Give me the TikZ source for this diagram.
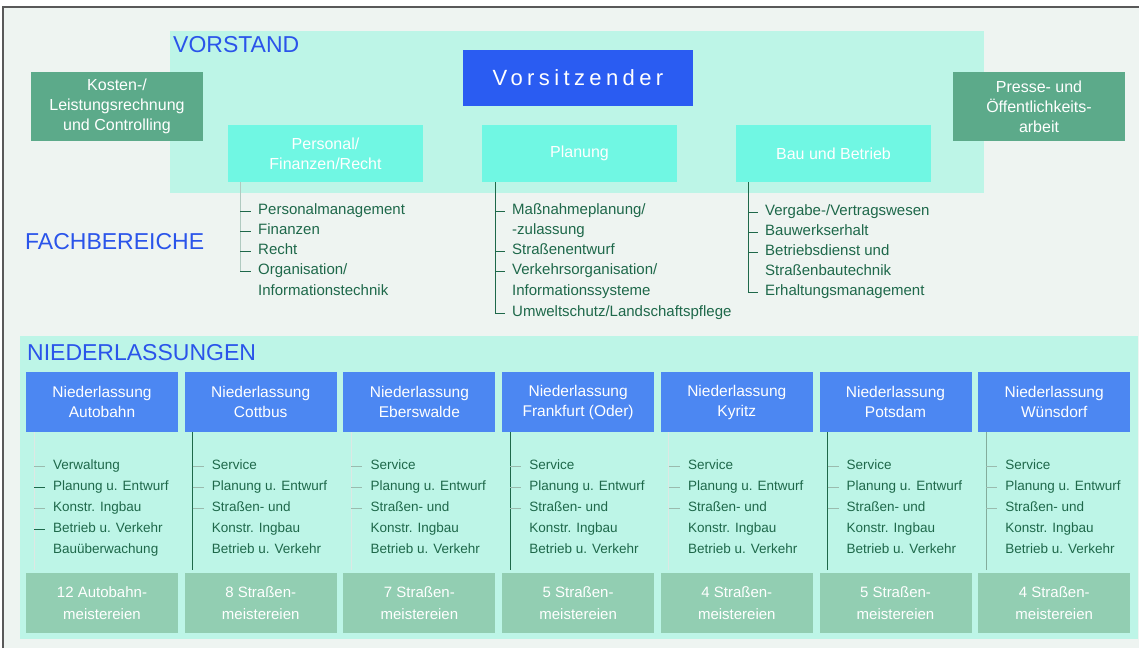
\documentclass[tikz,border=0pt]{standalone}
\usepackage{fontspec}
\setmainfont{Liberation Sans}
\newfontfamily\spacedfont[LetterSpace=20]{Liberation Sans}
\usepackage{xcolor}
\usepackage{tikz}
\usetikzlibrary{positioning, calc}
\definecolor{bgGrey}{RGB}{238,244,241}
\definecolor{mint}{RGB}{189,245,231}
\definecolor{aqua}{RGB}{112,247,227}
\definecolor{chairBlue}{RGB}{42,92,242}
\definecolor{branchBlue}{RGB}{76,135,242}
\definecolor{staffGreen}{RGB}{92,170,138}
\definecolor{depotGreen}{RGB}{146,206,178}
\definecolor{titleBlue}{RGB}{42,84,234}
\definecolor{listGreen}{RGB}{30,104,74}

\begin{document}
\begin{tikzpicture}[x=1pt, y=-1pt,
    chairbox/.style={fill=chairBlue, text=white, minimum width=230pt, minimum height=56pt, inner sep=0pt, font=\spacedfont\fontsize{22}{26}\selectfont},
    staffbox/.style={fill=staffGreen, text=white, align=center, minimum width=172pt, minimum height=69pt, inner sep=0pt, font=\fontsize{16}{20}\selectfont},
    deptbox/.style={fill=aqua, text=white, align=center, minimum width=195pt, minimum height=57pt, inner sep=0pt, font=\fontsize{16}{20}\selectfont},
    branchbox/.style={fill=branchBlue, text=white, align=center, minimum width=152pt, minimum height=60pt, inner sep=0pt, font=\fontsize{15.5}{20}\selectfont},
    depotbox/.style={fill=depotGreen, text=white, align=center, minimum width=152pt, minimum height=60pt, inner sep=0pt, font=\fontsize{15}{22}\selectfont},
    heading/.style={text=titleBlue, anchor=west, inner sep=0pt, font=\fontsize{23}{26}\selectfont},
    listitem/.style={text=listGreen, anchor=west, inner sep=0pt, font=\fontsize{15}{18}\selectfont, text height=10pt, text depth=3pt},
    smallitem/.style={listitem, font=\fontsize{13.5}{16}\selectfont, text height=9.5pt, text depth=2.5pt},
    spine/.style={listGreen, line width=1pt},
    tick/.style={listGreen!45, line width=1pt},
  ]
    \useasboundingbox (0,0) rectangle (1139,648);

    % Background and frame
    \fill[bgGrey] (3,7) rectangle (1139,648);
    \draw[gray!70!black, line width=1.5pt] (3,648) -- (3,7) -- (1139,7);

    % Vorstand
    \fill[mint] (170,31) rectangle (984,193);
    \node[heading] (vorstandT) at (173,45) {VORSTAND};
    \node[chairbox] (chair) at (578,78) {Vorsitzender};
    \node[staffbox] (cost) at (117,106.5) {Kosten-/\\Leistungsrechnung\\und Controlling};
    \node[staffbox] (press) at (1039,106.5) {Presse- und\\Öffentlichkeits-\\arbeit};

    % Fachbereiche
    \node[deptbox] (pers) at (325.5,153.5) {Personal/\\Finanzen/Recht};
    \node[deptbox] (plan) at (579.5,153.5) {Planung};
    \node[deptbox] (bau) at (833.5,153.5) {Bau und Betrieb};
    \node[heading] (fachT) at (25,242) {FACHBEREICHE};

    % Personal/Finanzen/Recht
    \node[listitem] (p1) at (258,211) {Personalmanagement};
    \node[listitem] (p2) at (258,231) {Finanzen};
    \node[listitem] (p3) at (258,251) {Recht};
    \node[listitem] (p4) at (258,271) {Organisation/};
    \node[listitem] (p4b) at (258,292) {Informationstechnik};
    \coordinate (ps) at (240,182);
    \draw[spine, listGreen!35] (pers.south -| ps) -- (ps |- p4.west);
    \foreach \k in {p1,p2,p3,p4}
        \draw[spine] (ps |- \k.west) -- ([xshift=-7pt]\k.west);

    % Planung
    \node[listitem] (m1) at (512,211) {Maßnahmeplanung/};
    \node[listitem] (m1b) at (512,231) {-zulassung};
    \node[listitem] (m2) at (512,251) {Straßenentwurf};
    \node[listitem] (m3) at (512,271) {Verkehrsorganisation/};
    \node[listitem] (m3b) at (512,292) {Informationssysteme};
    \node[listitem] (m4) at (512,313) {Umweltschutz/Landschaftspflege};
    \coordinate (ms) at (495,182);
    \draw[spine] (plan.south -| ms) -- (ms |- m4.west);
    \foreach \k in {m1,m2,m3,m4}
        \draw[spine] (ms |- \k.west) -- ([xshift=-7pt]\k.west);

    % Bau und Betrieb
    \node[listitem] (b1) at (765,212) {Vergabe-/Vertragswesen};
    \node[listitem] (b2) at (765,232) {Bauwerkserhalt};
    \node[listitem] (b3) at (765,252) {Betriebsdienst und};
    \node[listitem] (b3b) at (765,272) {Straßenbautechnik};
    \node[listitem] (b4) at (765,292) {Erhaltungsmanagement};
    \coordinate (bs) at (748,182);
    \draw[spine] (bau.south -| bs) -- (bs |- b4.west);
    \foreach \k in {b1,b2,b3,b4}
        \draw[spine] (bs |- \k.west) -- ([xshift=-7pt]\k.west);

    % Niederlassungen
    \fill[mint] (20,336) rectangle (1138,639);
    \node[heading] (nlT) at (27,353) {NIEDERLASSUNGEN};
    \foreach \i/\city/\depot/\shade in {0/Autobahn/12 Autobahn-/15, 1/Cottbus/8 Straßen-/100,
        2/Eberswalde/7 Straßen-/15, 3/Frankfurt (Oder)/5 Straßen-/100, 4/Kyritz/4 Straßen-/15,
        5/Potsdam/5 Straßen-/100, 6/Wünsdorf/4 Straßen-/55} {
        \pgfmathsetmacro\lx{26+158.7*\i}
        \node[branchbox] (nl\i) at (\lx+76,402) {Niederlassung\\\city};
        \node[depotbox] (dp\i) at (\lx+76,603) {\depot\\meistereien};
        \coordinate (sp\i) at (\lx+8,432);
        \draw[spine, listGreen!\shade, shorten >=3pt] (nl\i.south -| sp\i) -- (dp\i.north -| sp\i);
    }

    % Autobahn list
    \foreach \t [count=\k] in {Verwaltung, Planung u. Entwurf, Konstr. Ingbau, Betrieb u. Verkehr, Bauüberwachung}
        \node[smallitem] (s0-\k) at (53,445+21*\k) {\t};
    \foreach \k in {1,3}
        \draw[tick] (sp0 |- s0-\k.west) -- ([xshift=-8pt]s0-\k.west);
    \foreach \k in {2,4}
        \draw[spine] (sp0 |- s0-\k.west) -- ([xshift=-8pt]s0-\k.west);

    % Strassen lists
    \foreach \i in {1,...,6} {
        \pgfmathsetmacro\lx{26+158.7*\i}
        \foreach \t [count=\k] in {Service, Planung u. Entwurf, Straßen- und, Konstr. Ingbau, Betrieb u. Verkehr}
            \node[smallitem] (s\i-\k) at (\lx+27,445+21*\k) {\t};
        \foreach \k in {1,2,3}
            \draw[tick] (sp\i |- s\i-\k.west) -- ([xshift=-8pt]s\i-\k.west);
    }
\end{tikzpicture}
\end{document}
